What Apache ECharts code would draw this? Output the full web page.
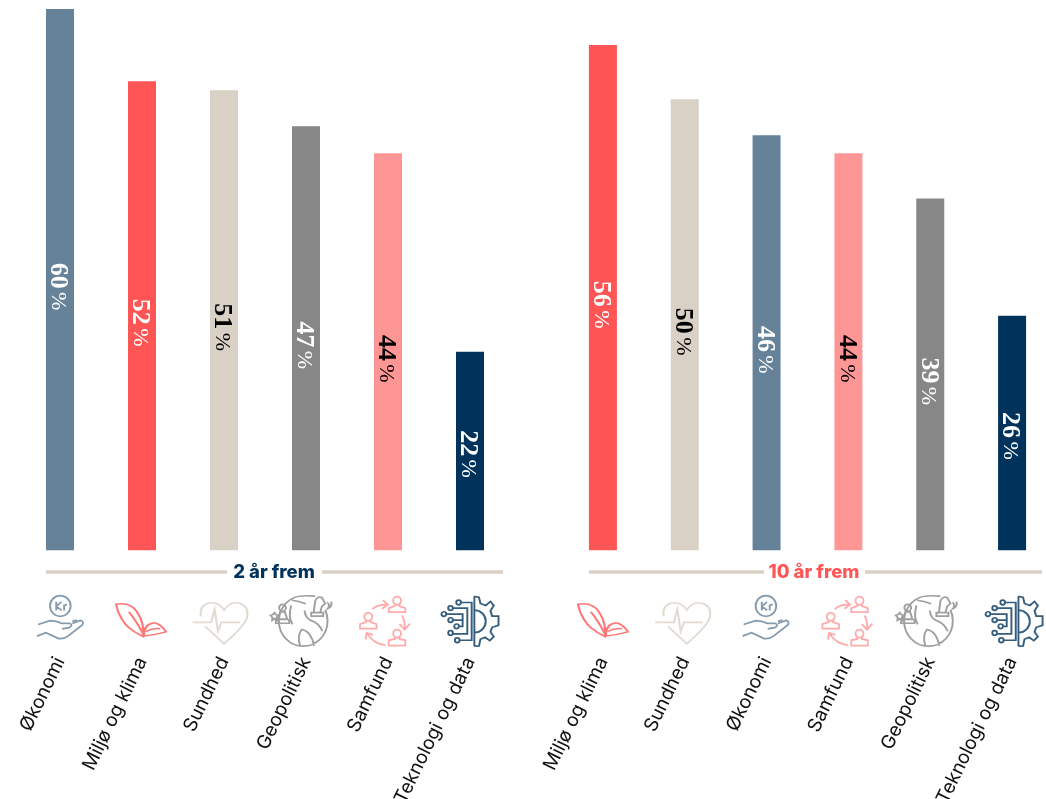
<!DOCTYPE html>
<html><head><meta charset="utf-8">
<style>html,body{margin:0;padding:0;background:#fff;overflow:hidden}#c{width:1046px;height:799px}</style>
<script src="https://cdn.jsdelivr.net/npm/echarts@6/dist/echarts.min.js"></script>
</head><body><div id="c"></div>
<script>
const categoriesNear = ['Økonomi','Miljø og klima','Sundhed','Geopolitisk','Samfund','Teknologi og data'];
const valuesNear = [60,52,51,47,44,22];
const categoriesFar = ['Miljø og klima','Sundhed','Økonomi','Samfund','Geopolitisk','Teknologi og data'];
const valuesFar = [56,50,46,44,39,26];
const titleNear = '2 år frem';
const titleFar = '10 år frem';

const styleByCategory = {
  'Økonomi': {color:'#668299', label:'#fff', size:[46,43],
    path:'M120 47A30 30 0 1 1 60 47A30 30 0 1 1 120 47ZM78 35V60M78 48L93 35M78 48L94 60M101 43V60M101 48Q104 42 110 43M25 101L60 90Q78 90 95 98H118Q128 103 116 110L95 114M125 98L148 89Q160 92 154 102L112 135Q100 144 85 142L48 125L22 135M125 92L138 88'},
  'Miljø og klima': {color:'#FF5555', label:'#fff', size:[50,33],
    path:'M258 44Q300 36 320 66Q342 98 338 137Q292 116 276 88Q262 66 258 44ZM296 66Q318 92 337 128M340 135Q338 102 370 97Q390 100 405 123Q372 132 340 135ZM345 122Q365 112 388 114'},
  'Sundhed': {color:'#D9D1C6', label:'#000', size:[55,41],
    path:'M50 80Q44 50 72 43Q100 36 118 62Q136 36 164 43Q192 52 186 82Q180 106 118 157L62 108M25 97H80L90 60L100 122L110 97H165'},
  'Geopolitisk': {color:'#878787', label:'#fff', size:[61,51],
    path:'M427 90A73 73 0 1 1 324 24M324 24Q340 14 390 18M427 90A73 73 0 0 0 420 58M302 52A10 10 0 1 1 282 52A10 10 0 1 1 302 52ZM285 64H299L306 85H278ZM272 86H312V97H272ZM320 30Q340 32 362 40M318 45Q308 80 322 100M345 165Q335 130 350 115Q378 120 387 163M358 60Q360 85 385 92Q402 100 412 120M385 68L390 32Q396 18 410 22L420 40L410 48L405 66M378 66H414V76H378ZM262 72L268 66L272 72L280 74L274 80L275 88L268 84L261 88L262 80L256 74ZM426 36Q436 44 428 54Q442 48 438 34'},
  'Samfund': {color:'#FF9696', label:'#000', size:[50,49],
    path:'M137 30A12 12 0 1 1 113 30A12 12 0 1 1 137 30ZM118 42V46L100 52V64H150V52L132 46V42ZM50 78A12 12 0 1 1 26 78A12 12 0 1 1 50 78ZM31 90V94L13 100V113H63V100L45 94V90ZM137 128A12 12 0 1 1 113 128A12 12 0 1 1 137 128ZM118 140V144L100 148V164H150V148L132 144V140ZM50 56Q66 40 96 42M82 28L97 42L80 54M140 74Q150 92 148 114M132 100L148 116L164 98M90 162Q58 162 34 128M30 146L33 126L52 132'},
  'Teknologi og data': {color:'#00335C', label:'#fff', size:[57,50],
    path:'M318 33A7 7 0 1 1 304 33A7 7 0 1 1 318 33ZM294 50A7 7 0 1 1 280 50A7 7 0 1 1 294 50ZM274 68A7 7 0 1 1 260 68A7 7 0 1 1 274 68ZM294 86A7 7 0 1 1 280 86A7 7 0 1 1 294 86ZM312 105A7 7 0 1 1 298 105A7 7 0 1 1 312 105ZM294 125A7 7 0 1 1 280 125A7 7 0 1 1 294 125ZM314 147A7 7 0 1 1 300 147A7 7 0 1 1 314 147ZM318 33H350V147H314M294 50H337V128H294M274 68H323V86H294M312 105H323V86M358 14V165M358 14L372 18L376 36L392 42L406 30L416 42L406 58L411 74H430V102L411 108L406 122L416 136L404 148L390 138L376 144L372 164L358 165M358 56A34 34 0 0 1 358 124'}
};

const iconOffsetNear = [[0,-3],[-1,0],[-4,3],[-5,1],[-3,1],[0,1]];
const iconOffsetFar = [[0,0],[-2,3],[-1,-3],[-1,1],[-4,1],[2,1]];
const iconRow = -7.76;

function barData(cats, vals){
  return vals.map((v,i)=>{
    const s = styleByCategory[cats[i]];
    return {value:v, itemStyle:{color:s.color},
      label:{color:s.label, offset:[v>=39?7:3, 2],
        rich:{n:{color:s.label,fontFamily:'Liberation Serif',fontWeight:'bold',fontSize:26},
              p:{color:s.label,fontFamily:'Liberation Serif',fontWeight:'normal',fontSize:22}}}};
  });
}
function iconData(cats, offs){
  return cats.map((c,i)=>{
    const s = styleByCategory[c];
    return {value:[c,iconRow], symbol:'path://'+s.path, symbolSize:s.size, symbolOffset:offs[i],
      itemStyle:{color:'rgba(0,0,0,0)',borderColor:s.color,borderWidth:1.8}};
  });
}
function xAxis(cats, idx){
  return {type:'category', gridIndex:idx, data:cats,
    axisLine:{show:false,onZero:false}, axisTick:{show:false},
    axisLabel:{interval:0, rotate:64, margin:18, color:'#111', fontFamily:'Inter', fontSize:19, hideOverlap:false}};
}
function yAxis(idx){ return {type:'value', gridIndex:idx, min:-10, max:60, show:false, splitLine:{show:false}}; }
function bars(cats, vals, idx){
  return {type:'bar', xAxisIndex:idx, yAxisIndex:idx, barWidth:28, data:barData(cats,vals),
    label:{show:true, position:'inside', rotate:-90,
      formatter:p=>'{n|'+p.value+'} {p|%}'}};
}
function icons(cats, offs, idx){
  return {type:'scatter', xAxisIndex:idx, yAxisIndex:idx, clip:false, symbolKeepAspect:false, silent:true, data:iconData(cats,offs)};
}
function header(x1,x2,text,color,gapL,gapR,cx){
  return [
    {type:'line',shape:{x1:x1,y1:572,x2:gapL,y2:572},style:{stroke:'#D9D1C6',lineWidth:3.5}},
    {type:'line',shape:{x1:gapR,y1:572,x2:x2,y2:572},style:{stroke:'#D9D1C6',lineWidth:3.5}},
    {type:'text',x:cx,y:572,style:{text:text,fill:color,font:'800 18.5px Inter',align:'center',verticalAlign:'middle'}}
  ];
}
const chart = echarts.init(document.getElementById('c'),null,{renderer:'canvas'});
chart.setOption({
  animation:false, backgroundColor:'#fff',
  grid:[{left:19,top:9,width:492,height:631.4,outerBoundsMode:'none'},{left:562,top:9,width:491,height:631.4,outerBoundsMode:'none'}],
  xAxis:[xAxis(categoriesNear,0),xAxis(categoriesFar,1)],
  yAxis:[yAxis(0),yAxis(1)],
  series:[bars(categoriesNear,valuesNear,0),bars(categoriesFar,valuesFar,1),
          icons(categoriesNear,iconOffsetNear,0),icons(categoriesFar,iconOffsetFar,1)],
  graphic:header(46,503,titleNear,'#00335C',227,322,274).concat(header(589,1042,titleFar,'#FF5555',764,865,814))
});
</script></body></html>
